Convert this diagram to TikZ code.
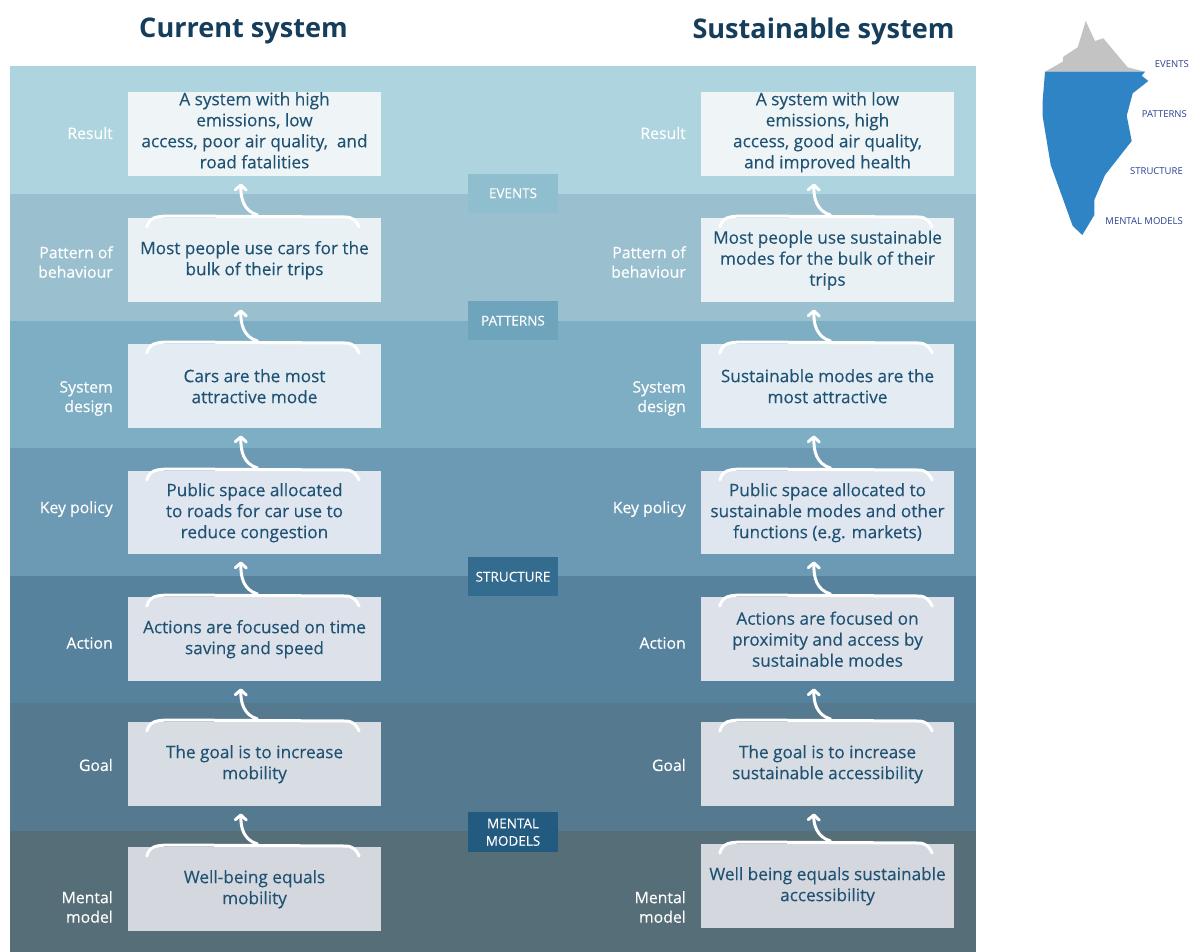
\documentclass[tikz,border=0pt]{standalone}
\usepackage{fontspec}
\setmainfont{Open Sans}
\newfontfamily\medfont[FakeBold=0.25]{Open Sans}
\usetikzlibrary{arrows.meta}
\definecolor{txt}{HTML}{1F5273}
\definecolor{ttl}{HTML}{153D5C}
\definecolor{ice}{HTML}{2F84C6}
\definecolor{icegray}{HTML}{C3C3C3}
\definecolor{icetxt}{HTML}{2B3F8F}
\tikzset{
  x=1pt,y=1pt,
  boxnode/.style={anchor=north,minimum width=253pt,minimum height=84pt,inner sep=0pt,align=center,text=txt,font=\medfont\fontsize{17.2}{21}\selectfont},
  sidelabel/.style={anchor=east,align=right,text=white,inner sep=0pt,font=\medfont\fontsize{15.8}{19.5}\selectfont},
  tagnode/.style={anchor=north,minimum width=90pt,minimum height=39pt,inner sep=0pt,align=center,text=white,font=\medfont\fontsize{13.5}{17.5}\selectfont},
  titlenode/.style={text=ttl,inner sep=0pt,font=\fontsize{27.1}{32}\selectfont\bfseries},
  icelabel/.style={anchor=east,inner sep=0pt,text=icetxt,font=\fontsize{9.5}{11}\selectfont},
  brace/.style={draw=white,line width=3pt,line cap=round},
  uparrow/.style={draw=white,line width=3pt,line cap=round,-{Straight Barb[length=5pt,width=11pt,round]}}
}
\newcommand{\linkboxes}[2]{% from box #1 up to box #2
  \draw[brace] ([xshift=19pt,yshift=-9pt]#1.north west) .. controls ([xshift=22pt,yshift=1pt]#1.north west) and ([xshift=28pt,yshift=2pt]#1.north west) .. ([xshift=45pt,yshift=2pt]#1.north west) -- ([xshift=-36pt,yshift=1pt]#1.north east) .. controls ([xshift=-28pt,yshift=1pt]#1.north east) and ([xshift=-25pt,yshift=-3pt]#1.north east) .. ([xshift=-22pt,yshift=-9pt]#1.north east);
  \draw[uparrow] ([xshift=3pt,yshift=3pt]#1.north) .. controls ([xshift=-11pt,yshift=7pt]#1.north) and ([xshift=-14pt,yshift=20pt]#1.north) .. ([xshift=-13.5pt,yshift=-7pt]#2.south);
}
\newcommand{\lift}{\\[-13pt]\mbox{}}
\begin{document}
\begin{tikzpicture}
\useasboundingbox (0,0) rectangle (1190,-952);
\fill[white] (0,0) rectangle (1190,-952);
% bands
\fill[fill={rgb,255:red,174;green,212;blue,223}] (10,-66) rectangle (976,-193.5);
\fill[fill={rgb,255:red,154;green,192;blue,208}] (10,-193.5) rectangle (976,-321);
\fill[fill={rgb,255:red,126;green,174;blue,196}] (10,-321) rectangle (976,-448);
\fill[fill={rgb,255:red,108;green,154;blue,180}] (10,-448) rectangle (976,-575.5);
\fill[fill={rgb,255:red,86;green,130;blue,158}] (10,-575.5) rectangle (976,-703);
\fill[fill={rgb,255:red,85;green,122;blue,143}] (10,-703) rectangle (976,-831);
\fill[fill={rgb,255:red,86;green,110;blue,120}] (10,-831) rectangle (976,-952);
% titles
\node[titlenode] (t1) at (243.5,-31) {Current system};
\node[titlenode] (t2) at (823.5,-31) {Sustainable system};
% left boxes
\node[boxnode,fill={rgb,255:red,239;green,245;blue,247}] (a1) at (254.5,-92) {A system with high\\emissions, low\\access, poor air quality,~ and\\road fatalities\lift};
\node[boxnode,fill={rgb,255:red,234;green,241;blue,244}] (a2) at (254.5,-218) {Most people use cars for the\\bulk of their trips};
\node[boxnode,fill={rgb,255:red,228;green,236;blue,243}] (a3) at (254.5,-344) {Cars are the most\\attractive mode};
\node[boxnode,fill={rgb,255:red,224;green,230;blue,240},minimum height=83pt] (a4) at (254.5,-471) {Public space allocated\\to roads for car use to\\reduce congestion};
\node[boxnode,fill={rgb,255:red,221;green,225;blue,233}] (a5) at (254.5,-597) {Actions are focused on time\\saving and speed};
\node[boxnode,fill={rgb,255:red,216;green,221;blue,227}] (a6) at (254.5,-722) {The goal is to increase\\mobility};
\node[boxnode,fill={rgb,255:red,212;green,216;blue,222}] (a7) at (254.5,-847) {Well-being equals\\mobility};
% right boxes
\node[boxnode,fill={rgb,255:red,239;green,245;blue,247}] (b1) at (827.5,-92) {A system with low\\emissions, high\\access, good air quality,\\and improved health\lift};
\node[boxnode,fill={rgb,255:red,234;green,241;blue,244}] (b2) at (827.5,-218) {Most people use sustainable\\modes for the bulk of their\\trips};
\node[boxnode,fill={rgb,255:red,228;green,236;blue,243}] (b3) at (827.5,-344) {Sustainable modes are the\\most attractive};
\node[boxnode,fill={rgb,255:red,224;green,230;blue,240},minimum height=83pt] (b4) at (827.5,-471) {Public space allocated to\\sustainable modes and other\\functions (e.g. markets)};
\node[boxnode,fill={rgb,255:red,221;green,225;blue,233}] (b5) at (827.5,-597) {Actions are focused on\\proximity and access by\\sustainable modes};
\node[boxnode,fill={rgb,255:red,216;green,221;blue,227}] (b6) at (827.5,-722) {The goal is to increase\\sustainable accessibility};
\node[boxnode,fill={rgb,255:red,212;green,216;blue,222}] (b7) at (827.5,-844) {Well being equals sustainable\\accessibility};
% links
\linkboxes{a2}{a1}\linkboxes{a3}{a2}\linkboxes{a4}{a3}\linkboxes{a5}{a4}\linkboxes{a6}{a5}\linkboxes{a7}{a6}
\linkboxes{b2}{b1}\linkboxes{b3}{b2}\linkboxes{b4}{b3}\linkboxes{b5}{b4}\linkboxes{b6}{b5}\linkboxes{b7}{b6}
% side labels
\node[sidelabel] (la1) at (113,-133) {Result};
\node[sidelabel] (la2) at (113,-262) {Pattern of\\behaviour};
\node[sidelabel] (la3) at (113,-398.5) {System\\design};
\node[sidelabel] (la4) at (113,-509) {Key policy};
\node[sidelabel] (la5) at (113,-643) {Action};
\node[sidelabel] (la6) at (113,-765) {Goal};
\node[sidelabel] (la7) at (113,-907) {Mental\\model};
\node[sidelabel] (lb1) at (686,-133) {Result};
\node[sidelabel] (lb2) at (686,-262) {Pattern of\\behaviour};
\node[sidelabel] (lb3) at (686,-398.5) {System\\design};
\node[sidelabel] (lb4) at (686,-509) {Key policy};
\node[sidelabel] (lb5) at (686,-643) {Action};
\node[sidelabel] (lb6) at (686,-765) {Goal};
\node[sidelabel] (lb7) at (686,-907) {Mental\\model};
% tags
\node[tagnode,fill={rgb,255:red,143;green,191;blue,207}] (g1) at (513,-173.5) {EVENTS};
\node[tagnode,fill={rgb,255:red,111;green,165;blue,188}] (g2) at (513,-301) {PATTERNS};
\node[tagnode,fill={rgb,255:red,51;green,108;blue,142}] (g3) at (513,-557) {STRUCTURE};
\node[tagnode,fill={rgb,255:red,35;green,90;blue,128},minimum height=40pt] (g4) at (513,-812) {MENTAL\\MODELS};
% iceberg
\fill[icegray] (1045,-71.7) -- (1062.7,-61.7) -- (1063.3,-56.7) -- (1077.7,-47.3) -- (1085.7,-21) -- (1095,-41) -- (1103.3,-38.3) -- (1127.7,-67.3) -- (1145,-71.7) -- cycle;
\fill[ice] (1045,-71.7) -- (1145,-71.7) -- (1141.7,-75.7) -- (1148.3,-81) -- (1132.7,-93.3) -- (1126.7,-115.7) -- (1131.7,-141) -- (1105,-175) -- (1094.3,-200) -- (1094.3,-215) -- (1082.3,-235) -- (1072.7,-226) -- (1050.7,-165) -- (1042.7,-116.7) -- (1042.7,-100) -- cycle;
\node[icelabel] (i1) at (1189,-64) {EVENTS};
\node[icelabel] (i2) at (1187,-114) {PATTERNS};
\node[icelabel] (i3) at (1183,-171) {STRUCTURE};
\node[icelabel] (i4) at (1183,-221) {MENTAL MODELS};
\end{tikzpicture}
\end{document}
